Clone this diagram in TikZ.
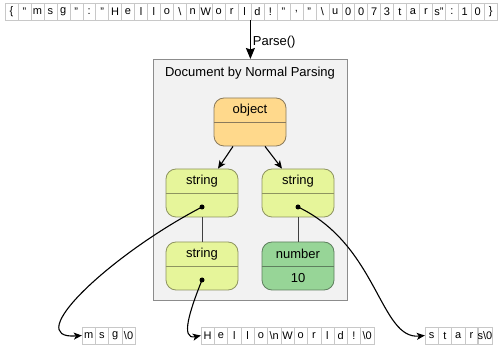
\documentclass[tikz,border=0pt]{standalone}
\usepackage{fontspec}
\setmainfont{Liberation Sans}
\usetikzlibrary{arrows.meta}
\definecolor{cellgray}{HTML}{C8C8C8}
\definecolor{contfill}{HTML}{F2F2F2}
\definecolor{contstroke}{HTML}{8C8C8C}
\definecolor{objfill}{HTML}{FFD98C}
\definecolor{objstroke}{HTML}{8A7A5C}
\definecolor{strfill}{HTML}{E6F59A}
\definecolor{strstroke}{HTML}{8E9460}
\definecolor{numfill}{HTML}{97D597}
\definecolor{numstroke}{HTML}{5E7F5E}
\begin{document}
\begin{tikzpicture}[x=1pt,y=-1pt,
  cell/.style={draw=cellgray, minimum width=#1, minimum height=17pt, inner sep=0pt, font=\fontsize{11}{12}\selectfont},
  cell/.default=12.95pt,
  bcell/.style={cell=13.3pt},
  rec/.style={rounded corners=10pt, minimum width=72pt, minimum height=48pt, line width=0.8pt},
  objrec/.style={rec, draw=objstroke, fill=objfill},
  strrec/.style={rec, draw=strstroke, fill=strfill},
  numrec/.style={rec, draw=numstroke, fill=numfill},
  lbl/.style={font=\fontsize{13}{15}\selectfont, inner sep=0pt},
  arr/.style={line width=1.1pt, -{Stealth[length=8pt,width=7pt,inset=2pt]}},
  bigarr/.style={line width=1.1pt, -{Stealth[length=11pt,width=9pt,inset=1.5pt]}},
  dot/.style={circle, fill=black, inner sep=0pt, minimum size=5pt},
]
\useasboundingbox (0,0) rectangle (503,352);

% top JSON string
\foreach \t [count=\i] in {{\{},{"},m,s,g,{"},:,{"},H,e,l,l,o,{\textbackslash},n,W,o,r,l,d,!,{"},{,},{"},{\textbackslash},u,0,0,7,3,t,a,r,{s"},:,1,0,{\}}}
  \node[cell] (t\i) at ({5+(\i-0.5)*12.95},11.5) {\t};

% container
\node[draw=contstroke, fill=contfill, line width=0.8pt, minimum width=194pt, minimum height=241pt, anchor=north west, inner sep=0pt] (cont) at (153,59) {};
\node[lbl] (title) at (250,73) {Document by Normal Parsing};

\draw[bigarr] (cont.north |- t19.south) -- node[right, lbl, xshift=2pt, yshift=-3pt] (parse) {Parse()} (cont.north);

% records
\node[objrec] (obj) at (250,122) {};
\node[strrec] (s1) at (202,193) {};
\node[strrec] (s2) at (298,193) {};
\node[strrec] (s3) at (202,266) {};
\node[numrec] (num) at (298,266) {};

\draw[objstroke, line width=0.8pt] (obj.west) -- (obj.east);
\draw[strstroke, line width=0.8pt] (s1.west) -- (s1.east);
\draw[strstroke, line width=0.8pt] (s2.west) -- (s2.east);
\draw[strstroke, line width=0.8pt] (s3.west) -- (s3.east);
\draw[numstroke, line width=0.8pt] (num.west) -- (num.east);

\node[lbl] (objt) at ([yshift=12pt]obj.center) {object};
\node[lbl] (s1t) at ([yshift=12pt]s1.center) {string};
\node[lbl] (s2t) at ([yshift=12pt]s2.center) {string};
\node[lbl] (s3t) at ([yshift=12pt]s3.center) {string};
\node[lbl] (numt) at ([yshift=12pt]num.center) {number};
\node[lbl] (numv) at ([yshift=-12pt]num.center) {10};

\draw[arr] ([xshift=-17pt]obj.south) -- ([xshift=16pt]s1.north);
\draw[arr] ([xshift=15pt]obj.south) -- ([xshift=-16pt]s2.north);
\draw[line width=1pt, black!75] (s1.south) -- (s3.north);
\draw[line width=1pt, black!75] (s2.south) -- (num.north);

\node[dot] (d1) at ([yshift=-14pt]s1.center) {};
\node[dot] (d2) at ([yshift=-14pt]s2.center) {};
\node[dot] (d3) at ([yshift=-14pt]s3.center) {};

% bottom strings
\foreach \t [count=\i] in {m,s,g,{\textbackslash 0}}
  \node[bcell] (m\i) at ({82+(\i-0.5)*13.3},335.5) {\t};
\foreach \t [count=\i] in {H,e,l,l,o,{\textbackslash n},W,o,r,l,d,!,{\textbackslash 0}}
  \node[bcell] (h\i) at ({201+(\i-0.5)*13.3},335.5) {\t};
\foreach \t [count=\i] in {s,t,a,r,{s\textbackslash 0}}
  \node[bcell] (st\i) at ({425+(\i-0.5)*13.3},335.5) {\t};

\draw[arr] (d1.center) .. controls (110,255) and (20,340) .. (m1.west);
\draw[arr] (d3.center) .. controls (190,310) and (180,340) .. (h1.west);
\draw[arr] (d2.center) .. controls (378,245) and (380,340) .. (st1.west);
\end{tikzpicture}
\end{document}
